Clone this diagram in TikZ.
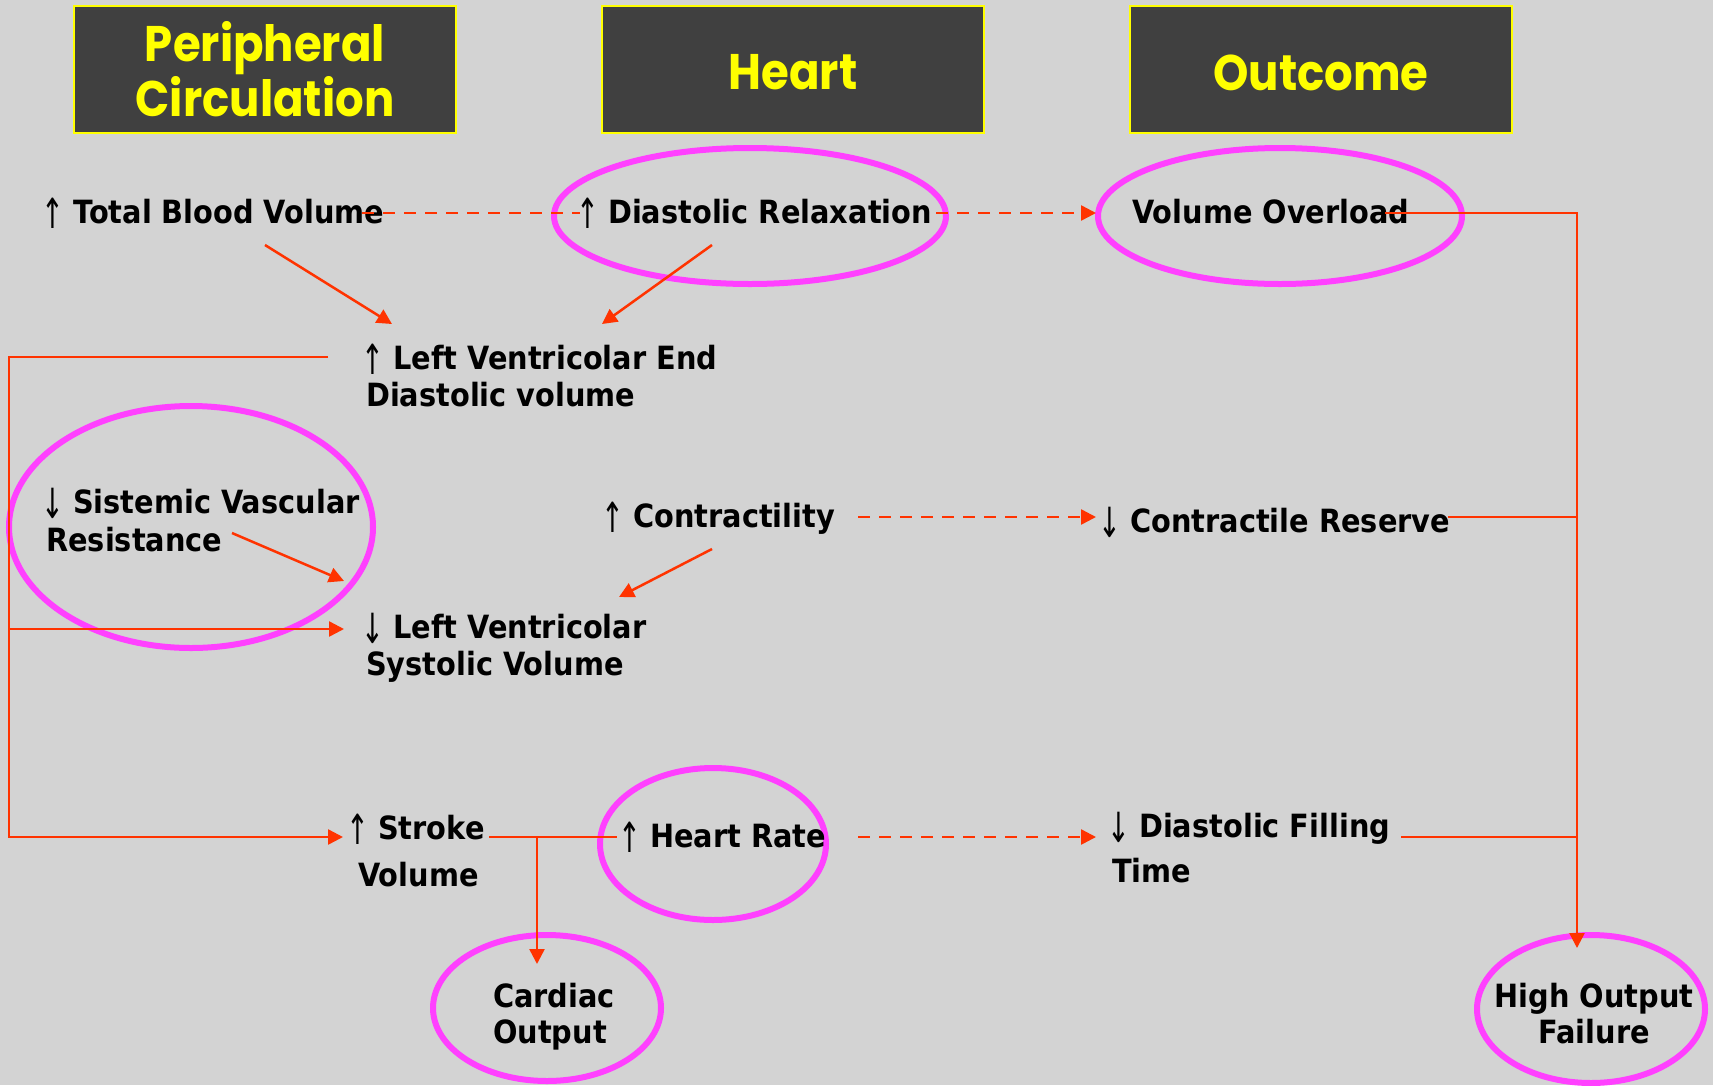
\documentclass[tikz,border=0pt]{standalone}
\usepackage{fontspec}
\setmainfont{DejaVu Sans}[FakeStretch=0.9]
\newfontfamily\arrfont{DejaVu Sans}
\newfontfamily\headfont{Poppins}[FakeStretch=0.9]
\usetikzlibrary{arrows.meta,shapes.geometric}
\definecolor{bg}{RGB}{211,211,211}
\definecolor{hdr}{RGB}{64,64,64}
\definecolor{ylw}{RGB}{255,255,0}
\definecolor{lnred}{RGB}{255,51,0}
\definecolor{mag}{RGB}{255,64,255}
\newcommand{\upar}{\makebox[27pt][l]{\makebox[14pt][c]{\raisebox{-5pt}{\scalebox{0.85}[1.3]{\arrfont\mdseries ↑}}}}}
\newcommand{\dnar}{\makebox[27pt][l]{\makebox[14pt][c]{\raisebox{-5pt}{\scalebox{0.85}[1.3]{\arrfont\mdseries ↓}}}}}
\begin{document}
\begin{tikzpicture}[x=1pt,y=-1pt,
  lbl/.style={inner sep=0pt, anchor=base west, font=\fontsize{32}{37}\selectfont\bfseries, align=left},
  hdrbox/.style={draw=ylw, fill=hdr, line width=2pt, minimum width=382pt, minimum height=127pt, inner sep=0pt,
     text=ylw, font=\headfont\bfseries\fontsize{50}{55}\selectfont, align=center},
  ring/.style={draw=mag, line width=6pt, ellipse, inner sep=0pt},
  conn/.style={draw=lnred, line width=2.5pt},
  dashln/.style={conn, dash pattern=on 12pt off 9pt},
  tip/.style={-{Triangle[length=15pt,width=15pt]}}
]
\fill[bg] (0,0) rectangle (1713,1085);
\useasboundingbox (0,0) rectangle (1713,1085);

% headers
\node[hdrbox] (h1) at (265,69.5) {Peripheral\\Circulation};
\node[hdrbox] (h2) at (793,69.5) {\raisebox{-3pt}[\height][\depth]{Heart}};
\node[hdrbox] (h3) at (1321,69.5) {\raisebox{-3pt}[\height][\depth]{Outcome}};

% rings
\node[ring, minimum width=392pt, minimum height=136pt] (edr) at (750,216) {};
\node[ring, minimum width=364pt, minimum height=136pt] (evo) at (1280,216) {};
\node[ring, minimum width=364pt, minimum height=242pt] (esvr) at (191,527) {};
\node[ring, minimum width=226pt, minimum height=152pt] (ehr) at (713,844) {};
\node[ring, minimum width=228pt, minimum height=146pt] (eco) at (547,1008) {};
\node[ring, minimum width=228pt, minimum height=148pt] (ehof) at (1591,1009) {};

% texts (multi-line nodes: base = last line)
\node[lbl] (tbv) at (46,223) {\upar Total Blood Volume};
\node[lbl] (dr) at (581,223) {\upar Diastolic Relaxation};
\node[lbl] (vo) at (1132,223) {Volume Overload};
\node[lbl] (lvedv) at (366,406) {\upar Left Ventricolar End\\Diastolic volume};
\node[lbl, font=\fontsize{32}{38}\selectfont\bfseries] (svr) at (46,551) {\dnar Sistemic Vascular\\Resistance};
\node[lbl] (con) at (606,527) {\upar Contractility};
\node[lbl] (cr) at (1103,532) {\dnar Contractile Reserve};
\node[lbl] (lvsv) at (366,675) {\dnar Left Ventricolar\\Systolic Volume};
\node[lbl, font=\fontsize{32}{47}\selectfont\bfseries] (sv) at (351,886) {\upar Stroke\\\hspace*{7pt}Volume};
\node[lbl] (hr) at (623,847) {\upar Heart Rate};
\node[lbl, font=\fontsize{32}{45}\selectfont\bfseries] (dft) at (1112,882) {\dnar Diastolic Filling\\Time};
\node[lbl, font=\fontsize{32}{36}\selectfont\bfseries] (co) at (493,1043) {Cardiac\\Output};
\node[lbl, font=\fontsize{32}{36}\selectfont\bfseries, anchor=base, align=center] (hof) at (1594,1043) {High Output\\Failure};

% connector end points
\coordinate (a1) at (362,213);
\coordinate (a2) at (580,213);
\coordinate (b1) at (936,213);
\coordinate (b2) at (1096,213);
\coordinate (c1) at (265,245);
\coordinate (c2) at (392,324);
\coordinate (d1) at (712,245);
\coordinate (d2) at (602,324);
\coordinate (v1) at (1385,213);
\coordinate (vx) at (1577,213);
\coordinate (v2) at (1577,948);
\coordinate (r1) at (1448,517);
\coordinate (r2) at (1577,517);
\coordinate (f1) at (1401,837);
\coordinate (f2) at (1577,837);
\coordinate (k1) at (858,517);
\coordinate (k2) at (1096,517);
\coordinate (m1) at (858,837);
\coordinate (m2) at (1096,837);
\coordinate (n1) at (712,549);
\coordinate (n2) at (619,597);
\coordinate (s1) at (232,533);
\coordinate (s2) at (344,581);
\coordinate (p1) at (328,357);
\coordinate (p2) at (9,357);
\coordinate (p3) at (9,837);
\coordinate (p4) at (343,837);
\coordinate (q1) at (9,629);
\coordinate (q2) at (344,629);
\coordinate (t1) at (489,837);
\coordinate (t2) at (617,837);
\coordinate (u1) at (537,837);
\coordinate (u2) at (537,964);

% connectors
\draw[dashln] (a1) -- (a2);
\draw[dashln, tip] (b1) -- (b2);
\draw[conn, tip] (c1) -- (c2);
\draw[conn, tip] (d1) -- (d2);
\draw[conn, tip] (v1) -- (vx) -- (v2);
\draw[conn] (r1) -- (r2);
\draw[conn] (f1) -- (f2);
\draw[dashln, tip] (k1) -- (k2);
\draw[dashln, tip] (m1) -- (m2);
\draw[conn, tip] (n1) -- (n2);
\draw[conn, tip] (s1) -- (s2);
\draw[conn, tip] (p1) -- (p2) -- (p3) -- (p4);
\draw[conn, tip] (q1) -- (q2);
\draw[conn] (t1) -- (t2);
\draw[conn, tip] (u1) -- (u2);
\end{tikzpicture}
\end{document}
